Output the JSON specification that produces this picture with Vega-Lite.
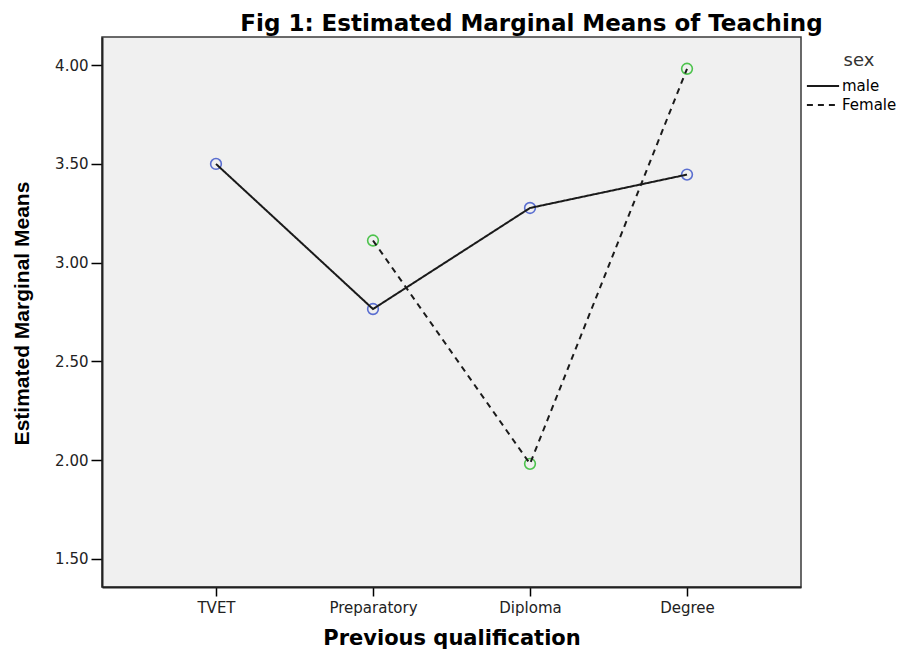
{
  "$schema": "https://vega.github.io/schema/vega-lite/v6.json",
  "width": 699,
  "height": 550,
  "autosize": {"type": "none"},
  "padding": {"left": 102, "top": 37, "right": 98, "bottom": 65},
  "background": "white",
  "title": {
    "text": "Fig 1: Estimated Marginal Means of Teaching",
    "font": "DejaVu Sans",
    "fontSize": 23,
    "fontWeight": "bold",
    "color": "black",
    "anchor": "middle",
    "dx": 80,
    "offset": 1
  },
  "data": {
    "values": [
      {"qual": "TVET", "sex": "male", "mean": 3.50},
      {"qual": "Preparatory", "sex": "male", "mean": 2.765},
      {"qual": "Diploma", "sex": "male", "mean": 3.277},
      {"qual": "Degree", "sex": "male", "mean": 3.446},
      {"qual": "Preparatory", "sex": "Female", "mean": 3.112},
      {"qual": "Diploma", "sex": "Female", "mean": 1.981},
      {"qual": "Degree", "sex": "Female", "mean": 3.982}
    ]
  },
  "encoding": {
    "x": {
      "field": "qual",
      "type": "nominal",
      "sort": ["TVET", "Preparatory", "Diploma", "Degree"],
      "scale": {"type": "point", "padding": 0.726},
      "axis": {
        "title": "Previous qualification",
        "labelAngle": 0,
        "tickSize": 9,
        "tickWidth": 1.5,
        "tickColor": "black",
        "domainColor": "#222",
        "domainWidth": 2,
        "grid": false,
        "labelFont": "DejaVu Sans",
        "labelFontSize": 15,
        "labelColor": "#222",
        "labelPadding": 4,
        "titleFont": "DejaVu Sans",
        "titleFontSize": 21,
        "titleFontWeight": "bold",
        "titleColor": "black",
        "titleY": 51,
        "titleBaseline": "middle"
      }
    },
    "y": {
      "field": "mean",
      "type": "quantitative",
      "scale": {"domain": [1.357, 4.143], "nice": false, "zero": false},
      "axis": {
        "title": "Estimated Marginal Means",
        "values": [1.5, 2, 2.5, 3, 3.5, 4],
        "format": ".2f",
        "tickSize": 11,
        "tickWidth": 1.5,
        "tickColor": "black",
        "domainColor": "#222",
        "domainWidth": 2,
        "grid": false,
        "labelFont": "DejaVu Sans",
        "labelFontSize": 15,
        "labelColor": "#222",
        "labelPadding": 3,
        "titleFont": "Liberation Sans",
        "titleFontSize": 21,
        "titleFontWeight": "bold",
        "titleColor": "black",
        "titleX": -80,
        "titleY": 276,
        "titleAngle": -90,
        "titleAlign": "center",
        "titleBaseline": "middle"
      }
    }
  },
  "layer": [
    {
      "transform": [{"filter": "datum.sex === 'male'"}],
      "mark": {"type": "point", "shape": "circle", "filled": false, "size": 115, "strokeWidth": 1.6, "opacity": 1, "color": "#5a6ed0"}
    },
    {
      "transform": [{"filter": "datum.sex === 'Female'"}],
      "mark": {"type": "point", "shape": "circle", "filled": false, "size": 115, "strokeWidth": 1.6, "opacity": 1, "color": "#4dc34d"}
    },
    {
      "mark": {"type": "line", "color": "#1a1a1a", "strokeWidth": 2},
      "encoding": {
        "strokeDash": {
          "field": "sex",
          "type": "nominal",
          "scale": {"domain": ["male", "Female"], "range": [[1, 0], [6, 5]]},
          "legend": {
            "orient": "none",
            "legendX": 720,
            "legendY": 15,
            "title": "sex",
            "titleFont": "DejaVu Sans",
            "titleFontSize": 18,
            "titleFontWeight": "normal",
            "titleColor": "#333",
            "titleAnchor": "middle",
            "titlePadding": 8,
            "labelFont": "DejaVu Sans",
            "labelFontSize": 15,
            "labelColor": "black",
            "labelOffset": 4,
            "symbolType": "M-3.3,0H1.3",
            "symbolSize": 196,
            "symbolStrokeWidth": 1.8,
            "symbolStrokeColor": "#1a1a1a",
            "symbolFillColor": "transparent",
            "rowPadding": 3
          }
        }
      }
    }
  ],
  "config": {
    "view": {"fill": "#f0f0f0", "stroke": "#3a3a3a", "strokeWidth": 1.5}
  }
}
